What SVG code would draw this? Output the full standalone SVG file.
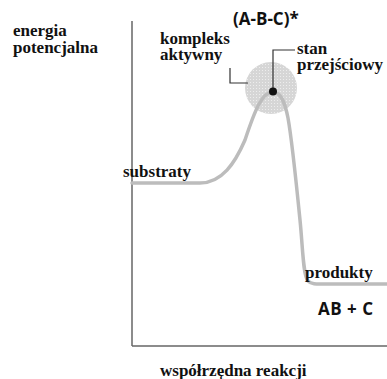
<svg xmlns="http://www.w3.org/2000/svg" width="387" height="379" viewBox="0 0 387 379">
  <style>
    .lbl { font-family: "Liberation Serif", "Times New Roman", serif; font-weight: bold; font-size: 17px; fill: #111; }
    .chem { font-family: "Open Sans", "Noto Sans", sans-serif; font-weight: bold; font-size: 17px; fill: #111; }
    .axis { stroke: #666; stroke-width: 1.5; fill: none; }
    .leader { stroke: #333; stroke-width: 1.2; fill: none; }
    .curve { stroke: #bcbcbc; stroke-width: 3.5; fill: none; stroke-linecap: round; stroke-linejoin: round; }
  </style>
  <defs>
    <pattern id="dots" width="3" height="3" patternUnits="userSpaceOnUse">
      <rect width="3" height="3" fill="#d6d6d6"/>
      <circle cx="1.5" cy="1.5" r="0.55" fill="#f2f2f2"/>
    </pattern>
  </defs>
  <rect width="387" height="379" fill="#ffffff"/>

  <g id="axes">
    <line class="axis" x1="132" y1="21" x2="132" y2="346"/>
    <line class="axis" x1="132" y1="346" x2="387" y2="346"/>
  </g>

  <g id="complex-region">
    <circle cx="271" cy="88" r="26" fill="url(#dots)"/>
  </g>

  <g id="connectors">
    <path class="curve" d="M132,183 L200,183 C222,183 235,163 245,140 C255,110 262,92 273,92 C281,92 285,103 288,118 C292,140 297,190 300,220 C303,250 303,275 308,281 C312,285 318,284 328,284 L387,284"/>
    <polyline class="leader" points="230,68 230,83 248,83"/>
    <polyline class="leader" points="273,92 273,50 295,50"/>
  </g>

  <g id="transition-state">
    <circle cx="273" cy="91.5" r="4" fill="#111"/>
  </g>

  <g id="label-energia">
    <text class="lbl" x="13" y="36">energia</text>
    <text class="lbl" x="13" y="53">potencjalna</text>
  </g>
  <g id="label-kompleks">
    <text class="lbl" x="160" y="44">kompleks</text>
    <text class="lbl" x="160" y="60">aktywny</text>
  </g>
  <g id="label-abc">
    <text class="chem" x="233" y="25">(A-B-C)*</text>
  </g>
  <g id="label-stan">
    <text class="lbl" x="297" y="54">stan</text>
    <text class="lbl" x="297" y="70">przejściowy</text>
  </g>
  <g id="label-substraty">
    <text class="lbl" x="123" y="177">substraty</text>
  </g>
  <g id="label-produkty">
    <text class="lbl" x="305" y="278">produkty</text>
  </g>
  <g id="label-ab-c">
    <text class="chem" x="318" y="315" letter-spacing="0.5">AB + C</text>
  </g>
  <g id="label-axis-x">
    <text class="lbl" x="160" y="376">współrzędna reakcji</text>
  </g>
</svg>
